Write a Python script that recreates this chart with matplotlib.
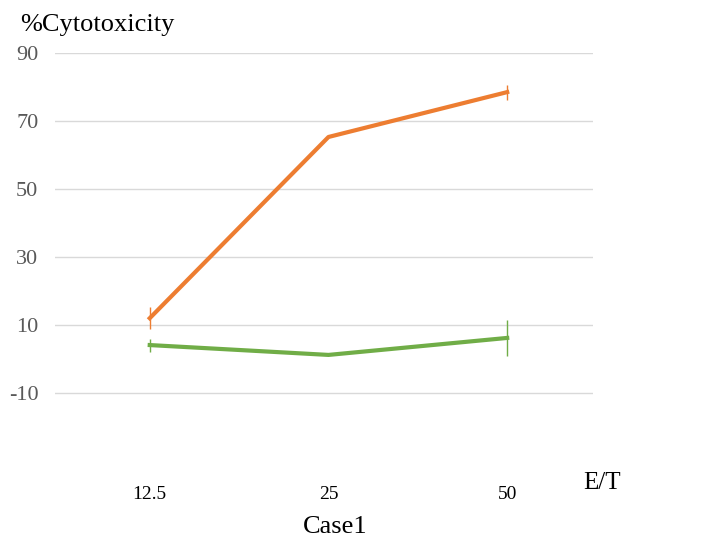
#line chart of %cytotoxicity vs E/T ratio
import numpy as np
import matplotlib.pyplot as plt

#x categories (E/T ratio)
et_labels = ["12.5", "25", "50"]
#values
orange_vals = [12.0, 65.3, 78.5]
orange_err = [3.3, 0.0, 2.2]
green_vals = [4.1, 1.2, 6.2]
green_err = [1.9, 0.0, 5.3]
yticks = [-10, 10, 30, 50, 70, 90]

plt.rcParams['font.family'] = ['Liberation Serif', 'DejaVu Serif']

fig = plt.figure(figsize=(7.02, 5.41), dpi=100)
ax = fig.add_axes([55/702, 1-461/541, (593-55)/702, (461-53)/541])

x = np.arange(len(et_labels))
ax.errorbar(x, orange_vals, yerr=orange_err, color="#ED7D31", lw=3.0,
            elinewidth=1, capsize=0, zorder=3)
ax.errorbar(x, green_vals, yerr=green_err, color="#70AD47", lw=3.0,
            elinewidth=1, capsize=0, zorder=3)

ax.set_xlim(-0.53, 2.48)
ax.set_ylim(-30, 90)
ax.set_yticks(yticks)
ax.set_yticklabels([str(v) for v in yticks], fontsize=16, color="#595959")
ax.yaxis.grid(True, color="#D9D9D9", lw=1)
ax.set_axisbelow(True)
ax.set_xticks(x)
ax.set_xticklabels(et_labels, fontsize=14, color="black")
ax.tick_params(axis='y', length=0, pad=12)
ax.tick_params(axis='x', length=0, pad=18)
for s in ax.spines.values():
    s.set_visible(False)

fig.text(20/702, 1-25/541, "%Cytotoxicity", fontsize=19, va="center", ha="left")
fig.text(583/702, 1-483/541, "E/T", fontsize=18, va="center", ha="left")
fig.text(335/702, 1-527/541, "Case1", fontsize=19, va="center", ha="center")

plt.savefig("out.png", dpi=100)
